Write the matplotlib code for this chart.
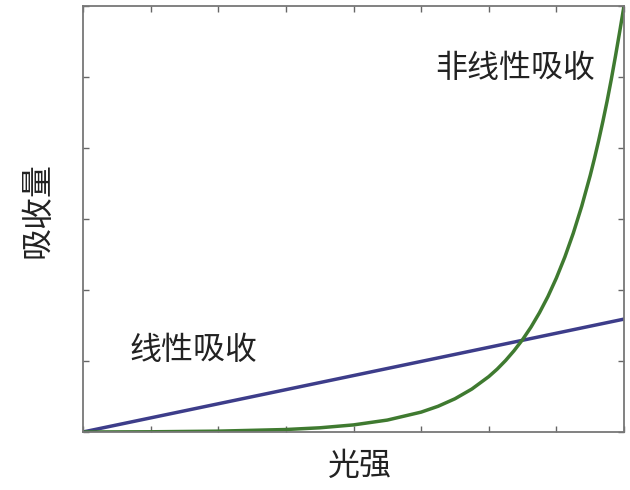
import matplotlib
matplotlib.use("Agg")
import matplotlib.pyplot as plt

plt.rcParams['font.family'] = ['Noto Sans CJK SC', 'DejaVu Sans']

# Data (arbitrary units: x 0..8, y 0..6)
linear_x = [0.0, 8.0]
linear_y = [0.0, 1.59]

nonlinear_x = [0.0, 1.0, 2.0, 3.0, 3.5, 4.0, 4.5, 5.0, 5.25, 5.5, 5.75,
               6.0, 6.125, 6.25, 6.375, 6.5, 6.625, 6.75, 6.875, 7.0, 7.125,
               7.25, 7.375, 7.5, 7.5625, 7.625, 7.6875, 7.75, 7.8125, 7.875,
               7.9375, 8.0]
nonlinear_y = [0.0, 0.003, 0.012, 0.035, 0.059, 0.100, 0.168, 0.280, 0.362,
               0.468, 0.605, 0.780, 0.886, 1.008, 1.146, 1.301, 1.478, 1.680,
               1.908, 2.169, 2.464, 2.800, 3.181, 3.612, 3.850, 4.104, 4.374,
               4.660, 4.969, 5.300, 5.645, 6.0]

label_linear = "线性吸收"
label_nonlinear = "非线性吸收"
xlabel = "光强"
ylabel = "吸收量"

fig = plt.figure(figsize=(6.3, 4.9), dpi=100)
ax = fig.add_axes([83/630, 58/490, 541/630, 426/490])

ax.plot(linear_x, linear_y, color='#3d3d8a', lw=2.5, solid_capstyle='round')
ax.plot(nonlinear_x, nonlinear_y, color='#3f7a30', lw=2.5, solid_capstyle='round',
        solid_joinstyle='round')

ax.set_xlim(0, 8)
ax.set_ylim(0, 6)
ax.set_xticks(range(0, 9))
ax.set_yticks(range(0, 7))
ax.tick_params(direction='in', length=4, width=1, color='#666666',
               top=True, right=True, labelbottom=False, labelleft=False)
for s in ax.spines.values():
    s.set_color('#777777')
    s.set_linewidth(1.3)

fs = 23
ax.text(6.39, 5.13, label_nonlinear, fontsize=fs, ha='center', va='center', color='#222222')
ax.text(1.63, 1.15, label_linear, fontsize=fs, ha='center', va='center', color='#222222')
fig.text(360/630, 1 - 466/490, xlabel, fontsize=fs, ha='center', va='center', color='#222222')
fig.text(38/630, 1 - 210/490, ylabel, fontsize=fs, ha='center', va='center', rotation=90, color='#222222')

fig.savefig("out.png", dpi=100, facecolor='white')
